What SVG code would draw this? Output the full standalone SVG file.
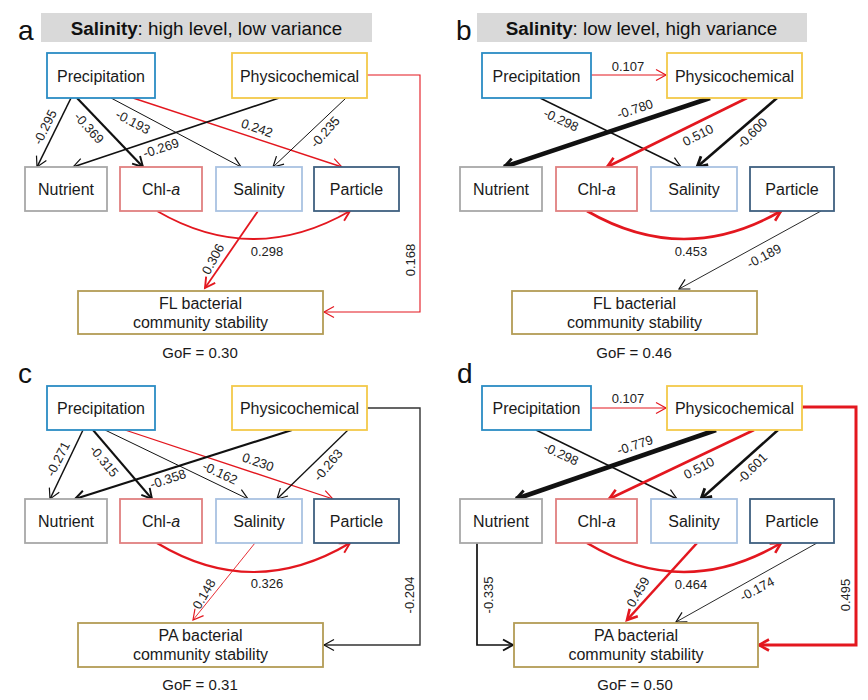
<svg xmlns="http://www.w3.org/2000/svg" width="868" height="700" viewBox="0 0 868 700">
<style>
.bg{fill:#ffffff}
.ban{fill:#d9d9d9}
.bt{font-family:"Liberation Sans",Arial,sans-serif;font-size:18.8px;fill:#111;text-anchor:middle}
.pl{font-family:"Liberation Sans",Arial,sans-serif;font-size:28px;fill:#111}
.box{fill:#fff;stroke-width:1.8}
.pre{stroke:#2b8cc4}
.phy{stroke:#f3c94a}
.nut{stroke:#a8a8a8}
.chl{stroke:#e08080}
.sal{stroke:#a9c2e2}
.par{stroke:#3f6080}
.out{stroke:#b39c55}
.nt{font-family:"Liberation Sans",Arial,sans-serif;font-size:16px;fill:#1a1a1a;text-anchor:middle}
.gof{font-family:"Liberation Sans",Arial,sans-serif;font-size:15px;fill:#1a1a1a;text-anchor:middle}
.el{font-family:"Liberation Sans",Arial,sans-serif;font-size:13px;fill:#222;text-anchor:middle}
.k{stroke:#111;fill:none}
.g{stroke:#333;fill:none}
.r{stroke:#e3171f;fill:none}
</style>
<defs>
<marker id="mk1" viewBox="-14 -9 18 18" refX="0" refY="0" markerWidth="18" markerHeight="18" markerUnits="userSpaceOnUse" orient="auto"><path d="M-10,-5.5 L0,0 L-10,5.5" fill="none" stroke="#111" stroke-width="1.2"/></marker>
<marker id="mk2" viewBox="-14 -9 18 18" refX="0" refY="0" markerWidth="18" markerHeight="18" markerUnits="userSpaceOnUse" orient="auto"><path d="M-10,-5.5 L0,0 L-10,5.5" fill="none" stroke="#111" stroke-width="1.9"/></marker>
<marker id="mk3" viewBox="-14 -9 18 18" refX="0" refY="0" markerWidth="18" markerHeight="18" markerUnits="userSpaceOnUse" orient="auto"><path d="M-10,-5.5 L0,0 L-10,5.5" fill="none" stroke="#111" stroke-width="2.8"/></marker>
<marker id="mr1" viewBox="-14 -9 18 18" refX="0" refY="0" markerWidth="18" markerHeight="18" markerUnits="userSpaceOnUse" orient="auto"><path d="M-10,-5.5 L0,0 L-10,5.5" fill="none" stroke="#e3171f" stroke-width="1.2"/></marker>
<marker id="mr2" viewBox="-14 -9 18 18" refX="0" refY="0" markerWidth="18" markerHeight="18" markerUnits="userSpaceOnUse" orient="auto"><path d="M-10,-5.5 L0,0 L-10,5.5" fill="none" stroke="#e3171f" stroke-width="1.9"/></marker>
<marker id="mr3" viewBox="-14 -9 18 18" refX="0" refY="0" markerWidth="18" markerHeight="18" markerUnits="userSpaceOnUse" orient="auto"><path d="M-10,-5.5 L0,0 L-10,5.5" fill="none" stroke="#e3171f" stroke-width="2.6"/></marker>
</defs>
<rect class="bg" x="0" y="0" width="868" height="700"/>

<g id="headers">
<rect class="ban" x="41" y="13" width="331" height="29"/>
<text class="bt" x="206.5" y="34.5"><tspan font-weight="bold">Salinity</tspan>: high level, low variance</text>
<rect class="ban" x="477" y="13" width="330" height="29"/>
<text class="bt" x="641.5" y="34.5"><tspan font-weight="bold">Salinity</tspan>: low level, high variance</text>
<text class="pl" x="18" y="40">a</text>
<text class="pl" x="456" y="40">b</text>
<text class="pl" x="18" y="383">c</text>
<text class="pl" x="457" y="383">d</text>
</g>

<g id="connectors">
<!-- panel a -->
<path class="k" stroke-width="1.6" marker-end="url(#mk1)" d="M71,98 L37,167"/>
<path class="k" stroke-width="2.2" marker-end="url(#mk2)" d="M77,98 L143,167"/>
<path class="k" stroke-width="1" marker-end="url(#mk1)" d="M111,98 L241,167"/>
<path class="r" stroke-width="1.4" marker-end="url(#mr1)" d="M133,98 L342,167"/>
<path class="k" stroke-width="1.6" marker-end="url(#mk1)" d="M279,98 L73,167"/>
<path class="k" stroke-width="1" marker-end="url(#mk1)" d="M346,98 L273,167"/>
<path class="r" stroke-width="1.1" marker-end="url(#mr1)" d="M367,75 H420 V312 H324"/>
<path class="r" stroke-width="1.8" marker-end="url(#mr2)" d="M157,211 Q253,267 350,211"/>
<path class="r" stroke-width="1.8" marker-end="url(#mr2)" d="M258,211 L205,288"/>
<!-- panel b -->
<path class="r" stroke-width="1" marker-end="url(#mr1)" d="M591,75 H666"/>
<path class="k" stroke-width="1.4" marker-end="url(#mk1)" d="M540,98 L681,167"/>
<path class="k" stroke-width="4.5" marker-end="url(#mk3)" d="M710,98 L504,167"/>
<path class="r" stroke-width="2.6" marker-end="url(#mr3)" d="M747,98 L607,167"/>
<path class="k" stroke-width="2.6" marker-end="url(#mk3)" d="M777,98 L697,167"/>
<path class="r" stroke-width="2.6" marker-end="url(#mr3)" d="M587,211 Q684,267 781,211"/>
<path class="k" stroke-width="0.9" marker-end="url(#mk1)" d="M821,211 L679,289"/>
<!-- panel c -->
<path class="k" stroke-width="1.5" marker-end="url(#mk1)" d="M83,430 L50,499"/>
<path class="k" stroke-width="2" marker-end="url(#mk2)" d="M93,430 L152,499"/>
<path class="k" stroke-width="1" marker-end="url(#mk1)" d="M105,430 L248,499"/>
<path class="r" stroke-width="1.3" marker-end="url(#mr1)" d="M125,430 L333,499"/>
<path class="k" stroke-width="2.2" marker-end="url(#mk2)" d="M292,430 L75,499"/>
<path class="k" stroke-width="1.3" marker-end="url(#mk1)" d="M348,430 L277,499"/>
<path class="g" stroke-width="1.4" marker-end="url(#mk1)" d="M367,408 H420 V645 H324"/>
<path class="r" stroke-width="2.2" marker-end="url(#mr2)" d="M157,543 Q253,601 350,543"/>
<path class="r" stroke-width="0.9" marker-end="url(#mr1)" d="M255,543 L193,620"/>
<!-- panel d -->
<path class="r" stroke-width="1" marker-end="url(#mr1)" d="M591,408 H666"/>
<path class="k" stroke-width="1.4" marker-end="url(#mk1)" d="M536,430 L677,499"/>
<path class="k" stroke-width="4.5" marker-end="url(#mk3)" d="M716,430 L516,499"/>
<path class="r" stroke-width="2.5" marker-end="url(#mr3)" d="M754,430 L609,499"/>
<path class="k" stroke-width="2.5" marker-end="url(#mk3)" d="M778,430 L701,499"/>
<path class="r" stroke-width="3" marker-end="url(#mr3)" d="M802,407 H856 V645 H759"/>
<path class="k" stroke-width="1.7" marker-end="url(#mk2)" d="M477,543 V645 H513"/>
<path class="r" stroke-width="2.6" marker-end="url(#mr3)" d="M587,543 Q684,601 781,543"/>
<path class="r" stroke-width="2.6" marker-end="url(#mr3)" d="M697,543 L627,620"/>
<path class="k" stroke-width="0.9" marker-end="url(#mk1)" d="M817,543 L676,622"/>
</g>

<g id="edge-labels">
<!-- a -->
<text class="el" transform="translate(45,127) rotate(-64)" y="4.5">-0.295</text>
<text class="el" transform="translate(89,128) rotate(48)" y="4.5">-0.369</text>
<text class="el" transform="translate(133,122) rotate(28)" y="4.5">-0.193</text>
<text class="el" transform="translate(161,148) rotate(-18)" y="4.5">-0.269</text>
<text class="el" transform="translate(257,128) rotate(19)" y="4.5">0.242</text>
<text class="el" transform="translate(325,132) rotate(-48)" y="4.5">-0.235</text>
<text class="el" x="267" y="255.5">0.298</text>
<text class="el" transform="translate(213,259) rotate(-62)" y="4.5">0.306</text>
<text class="el" transform="translate(410,260) rotate(-90)" y="4.5">0.168</text>
<!-- b -->
<text class="el" x="628" y="70.5">0.107</text>
<text class="el" transform="translate(561,120) rotate(25)" y="4.5">-0.298</text>
<text class="el" transform="translate(635,109) rotate(-18)" y="4.5">-0.780</text>
<text class="el" transform="translate(698,135) rotate(-27)" y="4.5">0.510</text>
<text class="el" transform="translate(752,133) rotate(-45)" y="4.5">-0.600</text>
<text class="el" x="691" y="255.5">0.453</text>
<text class="el" transform="translate(764,256) rotate(-28)" y="4.5">-0.189</text>
<!-- c -->
<text class="el" transform="translate(58,459) rotate(-63)" y="4.5">-0.271</text>
<text class="el" transform="translate(104,461) rotate(50)" y="4.5">-0.315</text>
<text class="el" transform="translate(220,473) rotate(25)" y="4.5">-0.162</text>
<text class="el" transform="translate(168,479) rotate(-18)" y="4.5">-0.358</text>
<text class="el" transform="translate(258,462) rotate(19)" y="4.5">0.230</text>
<text class="el" transform="translate(328,465) rotate(-50)" y="4.5">-0.263</text>
<text class="el" x="267" y="587.5">0.326</text>
<text class="el" transform="translate(204,594) rotate(-60)" y="4.5">0.148</text>
<text class="el" transform="translate(409,595) rotate(-90)" y="4.5">-0.204</text>
<!-- d -->
<text class="el" x="628" y="403">0.107</text>
<text class="el" transform="translate(561,454) rotate(25)" y="4.5">-0.298</text>
<text class="el" transform="translate(635,445) rotate(-18)" y="4.5">-0.779</text>
<text class="el" transform="translate(699,468) rotate(-28)" y="4.5">0.510</text>
<text class="el" transform="translate(752,468) rotate(-45)" y="4.5">-0.601</text>
<text class="el" x="691" y="588.5">0.464</text>
<text class="el" transform="translate(638,592) rotate(-60)" y="4.5">0.459</text>
<text class="el" transform="translate(757,589) rotate(-28)" y="4.5">-0.174</text>
<text class="el" transform="translate(488,595) rotate(-90)" y="4.5">-0.335</text>
<text class="el" transform="translate(845,595) rotate(-90)" y="4.5">0.495</text>
</g>

<!-- Panel a nodes -->
<g id="a-precipitation"><rect class="box pre" x="47" y="53" width="108" height="45"/><text class="nt" x="101" y="82">Precipitation</text></g>
<g id="a-physicochemical"><rect class="box phy" x="232" y="53" width="135" height="45"/><text class="nt" x="299.5" y="82">Physicochemical</text></g>
<g id="a-nutrient"><rect class="box nut" x="25" y="167" width="82" height="44"/><text class="nt" x="66" y="195">Nutrient</text></g>
<g id="a-chla"><rect class="box chl" x="120" y="167" width="82" height="44"/><text class="nt" x="161" y="195">Chl-<tspan font-style="italic">a</tspan></text></g>
<g id="a-salinity"><rect class="box sal" x="216" y="167" width="86" height="44"/><text class="nt" x="259" y="195">Salinity</text></g>
<g id="a-particle"><rect class="box par" x="314" y="167" width="85" height="44"/><text class="nt" x="356.5" y="195">Particle</text></g>
<g id="a-fl"><rect class="box out" x="78" y="291" width="245" height="43"/><text class="nt" x="200.5" y="309">FL bacterial</text><text class="nt" x="200.5" y="328">community stability</text></g>
<text class="gof" x="200" y="358">GoF = 0.30</text>

<!-- Panel b nodes -->
<g id="b-precipitation"><rect class="box pre" x="482" y="53" width="109" height="45"/><text class="nt" x="536.5" y="82">Precipitation</text></g>
<g id="b-physicochemical"><rect class="box phy" x="667" y="53" width="135" height="45"/><text class="nt" x="734.5" y="82">Physicochemical</text></g>
<g id="b-nutrient"><rect class="box nut" x="460" y="167" width="82" height="44"/><text class="nt" x="501" y="195">Nutrient</text></g>
<g id="b-chla"><rect class="box chl" x="556" y="167" width="81" height="44"/><text class="nt" x="596.5" y="195">Chl-<tspan font-style="italic">a</tspan></text></g>
<g id="b-salinity"><rect class="box sal" x="651" y="167" width="86" height="44"/><text class="nt" x="694" y="195">Salinity</text></g>
<g id="b-particle"><rect class="box par" x="750" y="167" width="84" height="44"/><text class="nt" x="792" y="195">Particle</text></g>
<g id="b-fl"><rect class="box out" x="512" y="291" width="245" height="43"/><text class="nt" x="634.5" y="309">FL bacterial</text><text class="nt" x="634.5" y="328">community stability</text></g>
<text class="gof" x="634" y="358">GoF = 0.46</text>

<!-- Panel c nodes -->
<g id="c-precipitation"><rect class="box pre" x="47" y="386" width="108" height="44"/><text class="nt" x="101" y="414">Precipitation</text></g>
<g id="c-physicochemical"><rect class="box phy" x="232" y="386" width="135" height="44"/><text class="nt" x="299.5" y="414">Physicochemical</text></g>
<g id="c-nutrient"><rect class="box nut" x="25" y="499" width="82" height="44"/><text class="nt" x="66" y="527">Nutrient</text></g>
<g id="c-chla"><rect class="box chl" x="120" y="499" width="82" height="44"/><text class="nt" x="161" y="527">Chl-<tspan font-style="italic">a</tspan></text></g>
<g id="c-salinity"><rect class="box sal" x="216" y="499" width="86" height="44"/><text class="nt" x="259" y="527">Salinity</text></g>
<g id="c-particle"><rect class="box par" x="314" y="499" width="85" height="44"/><text class="nt" x="356.5" y="527">Particle</text></g>
<g id="c-pa"><rect class="box out" x="78" y="623" width="245" height="44"/><text class="nt" x="200.5" y="641">PA bacterial</text><text class="nt" x="200.5" y="660">community stability</text></g>
<text class="gof" x="200" y="690">GoF = 0.31</text>

<!-- Panel d nodes -->
<g id="d-precipitation"><rect class="box pre" x="482" y="386" width="109" height="44"/><text class="nt" x="536.5" y="414">Precipitation</text></g>
<g id="d-physicochemical"><rect class="box phy" x="667" y="386" width="135" height="44"/><text class="nt" x="734.5" y="414">Physicochemical</text></g>
<g id="d-nutrient"><rect class="box nut" x="460" y="499" width="82" height="44"/><text class="nt" x="501" y="527">Nutrient</text></g>
<g id="d-chla"><rect class="box chl" x="556" y="499" width="81" height="44"/><text class="nt" x="596.5" y="527">Chl-<tspan font-style="italic">a</tspan></text></g>
<g id="d-salinity"><rect class="box sal" x="651" y="499" width="86" height="44"/><text class="nt" x="694" y="527">Salinity</text></g>
<g id="d-particle"><rect class="box par" x="750" y="499" width="84" height="44"/><text class="nt" x="792" y="527">Particle</text></g>
<g id="d-pa"><rect class="box out" x="514" y="623" width="244" height="44"/><text class="nt" x="636" y="641">PA bacterial</text><text class="nt" x="636" y="660">community stability</text></g>
<text class="gof" x="635" y="690">GoF = 0.50</text>
</svg>
